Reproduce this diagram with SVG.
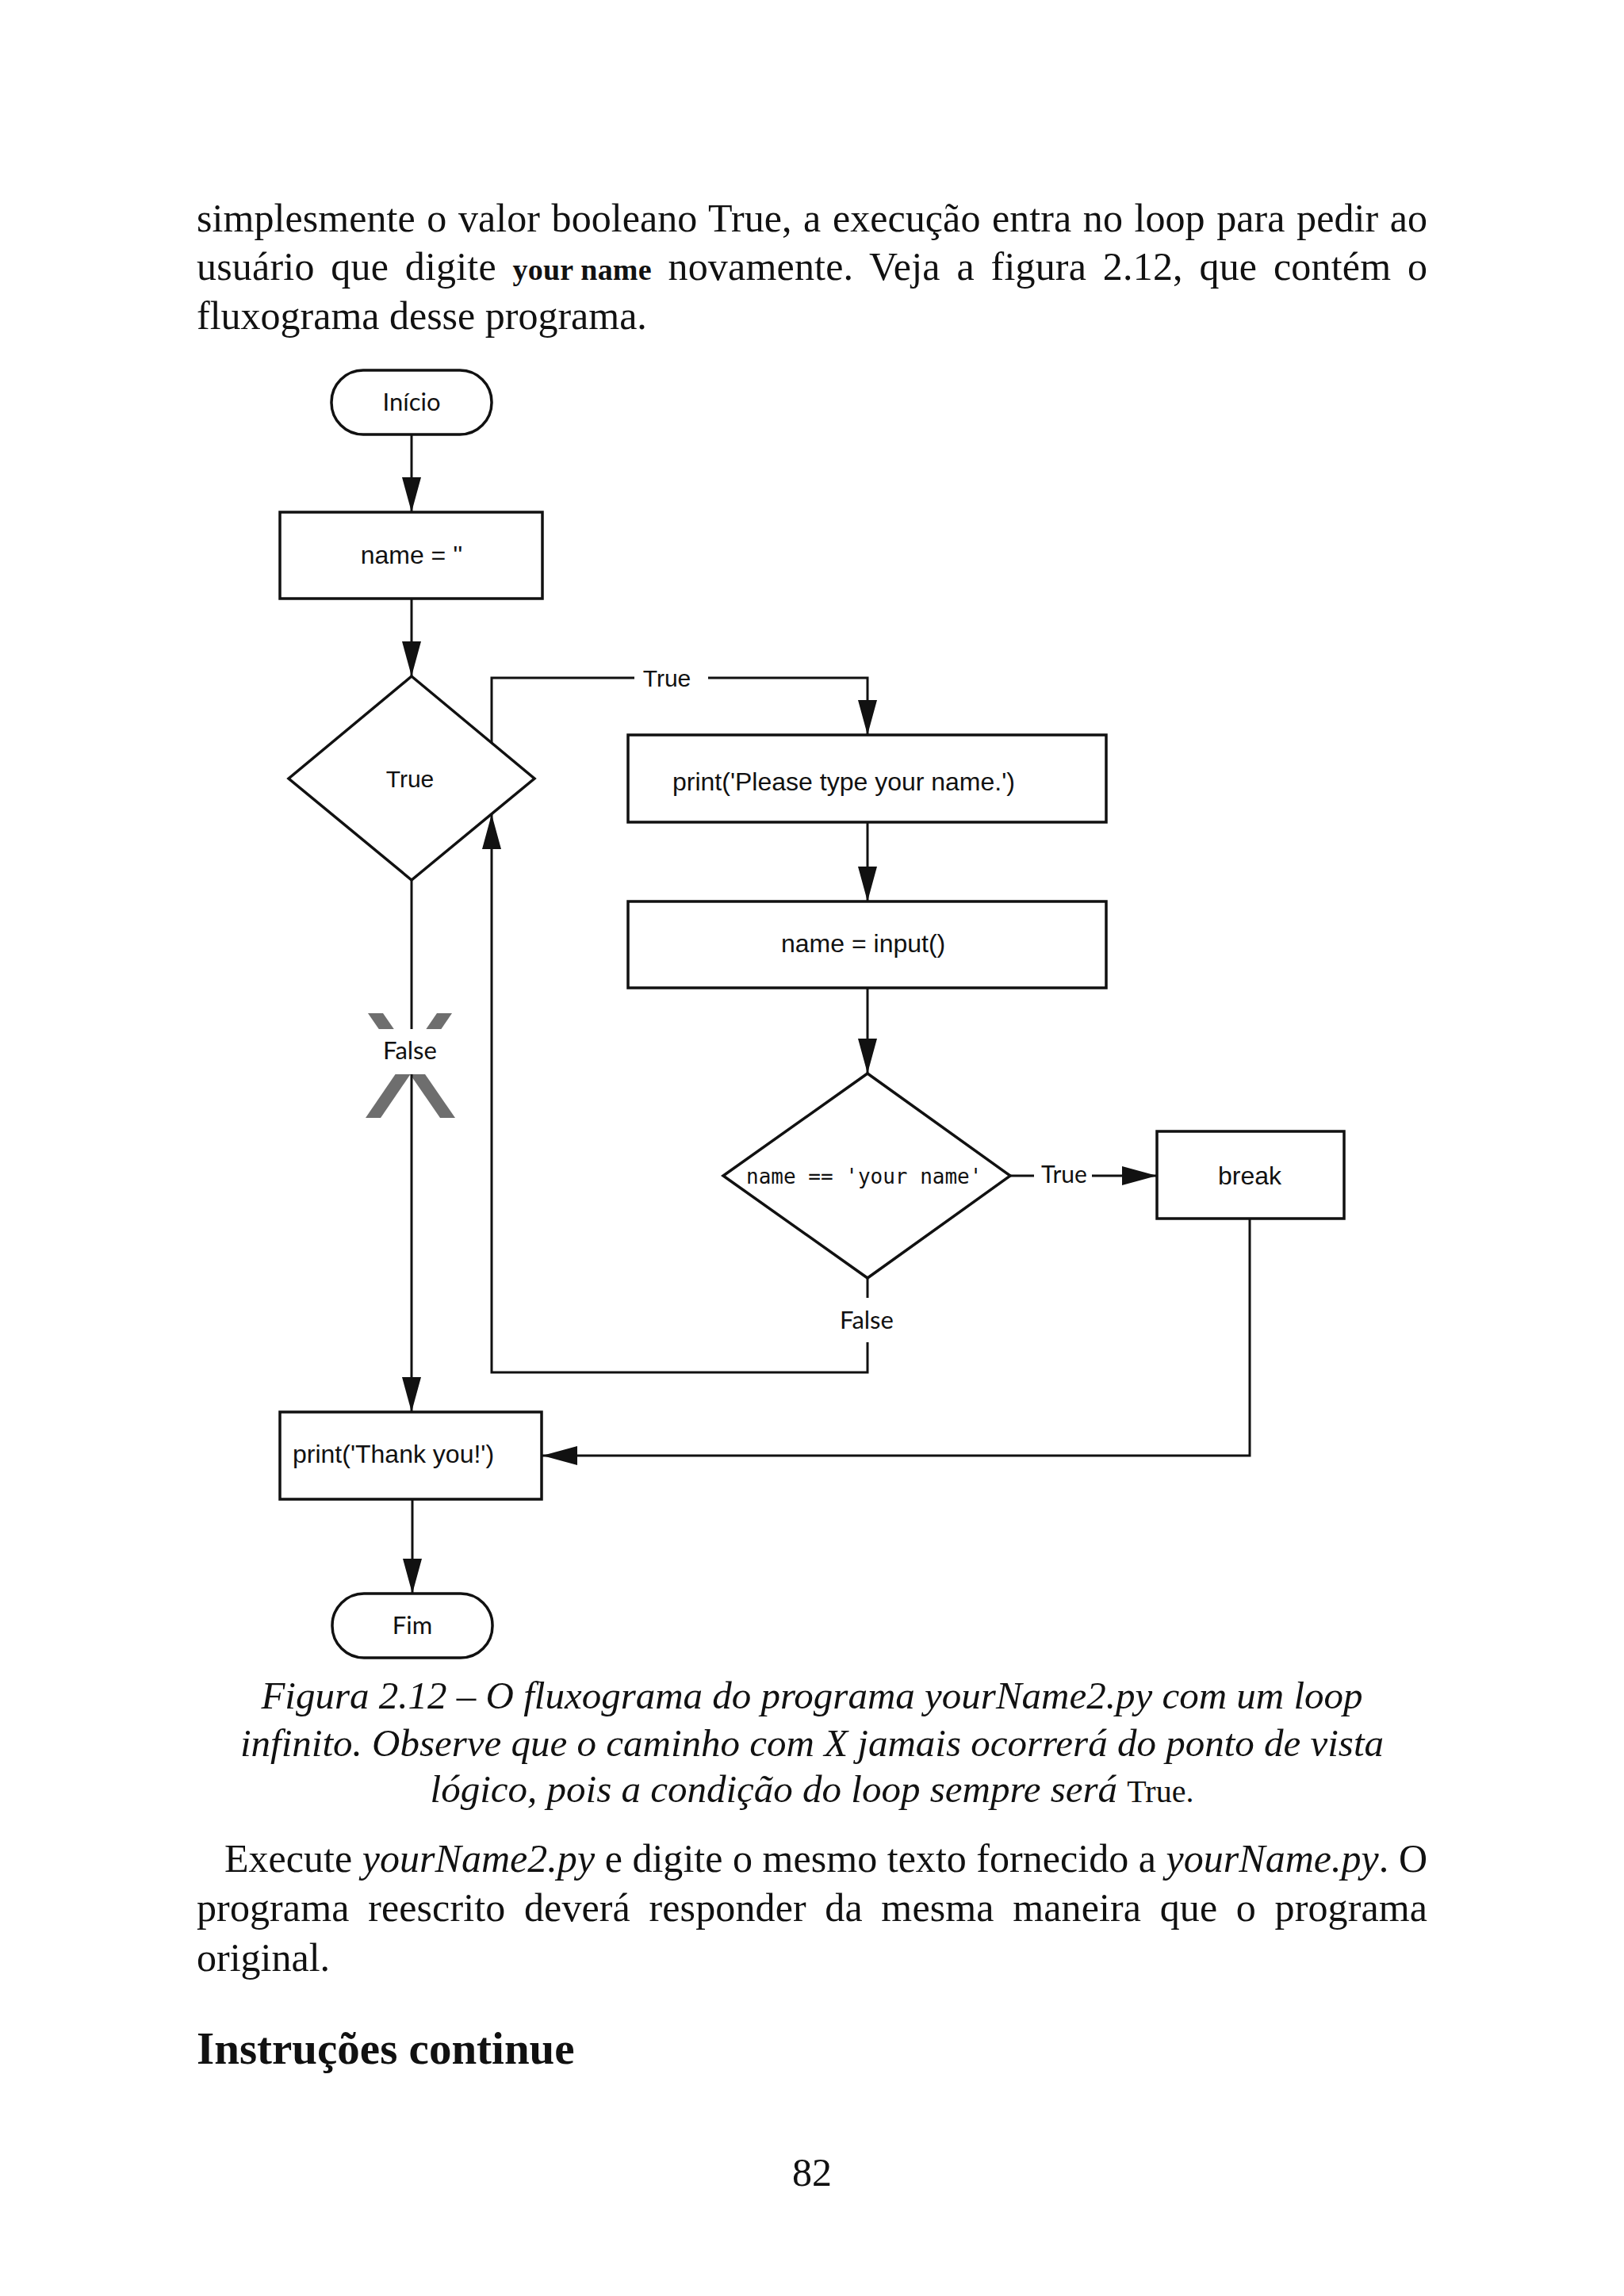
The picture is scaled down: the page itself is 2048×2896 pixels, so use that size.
<svg xmlns="http://www.w3.org/2000/svg" width="2048" height="2896" viewBox="0 0 2048 2896">
<defs>
<style>
.body{font-family:"Liberation Serif","Times New Roman",serif;font-size:50px;fill:#111}
.cap{font-family:"Liberation Serif","Times New Roman",serif;font-size:49px;font-style:italic;fill:#111}
.box{fill:#fff;stroke:#111;stroke-width:3.5}
.lbl{font-family:"Liberation Sans",Arial,sans-serif;font-size:32px;fill:#111}
.hum{font-family:Lato,"Open Sans",sans-serif;font-size:31px;fill:#111}
.mono{font-family:"DejaVu Sans Mono","Liberation Mono",monospace;font-size:26px;fill:#111}
.conn{fill:none;stroke:#111;stroke-width:3}
</style>
<marker id="ah" markerUnits="userSpaceOnUse" markerWidth="44" markerHeight="24" refX="44" refY="12" orient="auto" viewBox="0 0 44 24">
<path d="M0,0 L44,12 L0,24 Z" fill="#111"/>
</marker>
</defs>
<rect width="2048" height="2896" fill="#fff"/>

<g id="text-top">
<text class="body" x="248" y="292" word-spacing="2" textLength="1552" lengthAdjust="spacing">simplesmente o valor booleano True, a execução entra no loop para pedir ao</text>
<text class="body" x="248" y="353" word-spacing="8" textLength="1552" lengthAdjust="spacing">usuário que digite <tspan font-weight="bold" font-size="38" word-spacing="0">your name</tspan> novamente. Veja a figura 2.12, que contém o</text>
<text class="body" x="248" y="415">fluxograma desse programa.</text>
</g>

<g id="connectors">
<line class="conn" x1="519" y1="548" x2="519" y2="646" marker-end="url(#ah)"/>
<line class="conn" x1="519" y1="755" x2="519" y2="853" marker-end="url(#ah)"/>
<path class="conn" d="M620,937 V855 H800"/>
<path class="conn" d="M893,855 H1094 V927" marker-end="url(#ah)"/>
<line class="conn" x1="1094" y1="1037" x2="1094" y2="1137" marker-end="url(#ah)"/>
<line class="conn" x1="1094" y1="1246" x2="1094" y2="1354" marker-end="url(#ah)"/>
<line class="conn" x1="1274" y1="1483" x2="1304" y2="1483"/>
<line class="conn" x1="1377" y1="1483" x2="1459" y2="1483" stroke-width="4.5" marker-end="url(#ah)"/>
<line class="conn" x1="1094" y1="1612" x2="1094" y2="1637"/>
<path class="conn" d="M1094,1693 V1731 H620 V1027" marker-end="url(#ah)"/>
<path class="conn" d="M1576,1537 V1836 H684" stroke-width="4" marker-end="url(#ah)"/>
<g id="x-mark">
<polygon points="464,1278 483,1278 574,1410 555,1410" fill="#6e6e6e"/>
<polygon points="551,1278 570,1278 480,1410 461,1410" fill="#6e6e6e"/>
<rect x="450" y="1298" width="140" height="57" fill="#fff"/>
</g>
<line class="conn" x1="519" y1="1110" x2="519" y2="1298"/>
<line class="conn" x1="519" y1="1355" x2="519" y2="1781" marker-end="url(#ah)"/>
<line class="conn" x1="520" y1="1891" x2="520" y2="2010" marker-end="url(#ah)"/>
<text class="lbl" x="841" y="866" text-anchor="middle" style="font-size:30px">True</text>
<text class="hum" x="1313" y="1492" style="font-size:30px">True</text>
<text class="hum" x="1093" y="1676" text-anchor="middle">False</text>
<text class="hum" x="517" y="1336" text-anchor="middle">False</text>
</g>

<g id="n-inicio">
<rect class="box" x="418" y="467" width="202" height="81" rx="40" ry="40"/>
<text class="hum" x="519" y="518" text-anchor="middle">Início</text>
</g>
<g id="n-name-empty">
<rect class="box" x="353" y="646" width="331" height="109"/>
<text class="lbl" x="519" y="711" text-anchor="middle">name = ''</text>
</g>
<g id="n-while-true">
<polygon class="box" points="519,853 674,982 519,1110 364,982"/>
<text class="lbl" x="517" y="993" text-anchor="middle" style="font-size:30px">True</text>
</g>
<g id="n-print-please">
<rect class="box" x="792" y="927" width="603" height="110"/>
<text class="lbl" x="848" y="997">print('Please type your name.')</text>
</g>
<g id="n-input">
<rect class="box" x="792" y="1137" width="603" height="109"/>
<text class="lbl" x="985" y="1201">name = input()</text>
</g>
<g id="n-if-name">
<polygon class="box" points="1094,1354 1274,1483 1094,1612 912,1483"/>
<text class="mono" x="941" y="1493">name == 'your name'</text>
</g>
<g id="n-break">
<rect class="box" x="1459" y="1427" width="236" height="110"/>
<text class="lbl" x="1576" y="1494" text-anchor="middle">break</text>
</g>
<g id="n-thanks">
<rect class="box" x="353" y="1781" width="330" height="110"/>
<text class="lbl" x="369" y="1845">print('Thank you!')</text>
</g>
<g id="n-fim">
<rect class="box" x="419" y="2010" width="202" height="81" rx="40" ry="40"/>
<text class="hum" x="520" y="2061" text-anchor="middle">Fim</text>
</g>

<g id="caption">
<text class="cap" x="1024" y="2155" text-anchor="middle">Figura 2.12 – O fluxograma do programa yourName2.py com um loop</text>
<text class="cap" x="1024" y="2215" text-anchor="middle">infinito. Observe que o caminho com X jamais ocorrerá do ponto de vista</text>
<text class="cap" x="1024" y="2273" text-anchor="middle">lógico, pois a condição do loop sempre será <tspan font-style="normal" font-size="40">True.</tspan></text>
</g>

<g id="text-bottom">
<text class="body" x="283" y="2361" textLength="1517" lengthAdjust="spacing">Execute <tspan font-style="italic">yourName2.py</tspan> e digite o mesmo texto fornecido a <tspan font-style="italic">yourName.py</tspan>. O</text>
<text class="body" x="248" y="2423" word-spacing="11" textLength="1552" lengthAdjust="spacing">programa reescrito deverá responder da mesma maneira que o programa</text>
<text class="body" x="248" y="2486">original.</text>
<text class="body" x="248" y="2603" style="font-size:57px;font-weight:bold">Instruções continue</text>
<text class="body" x="1024" y="2757" text-anchor="middle">82</text>
</g>
</svg>
